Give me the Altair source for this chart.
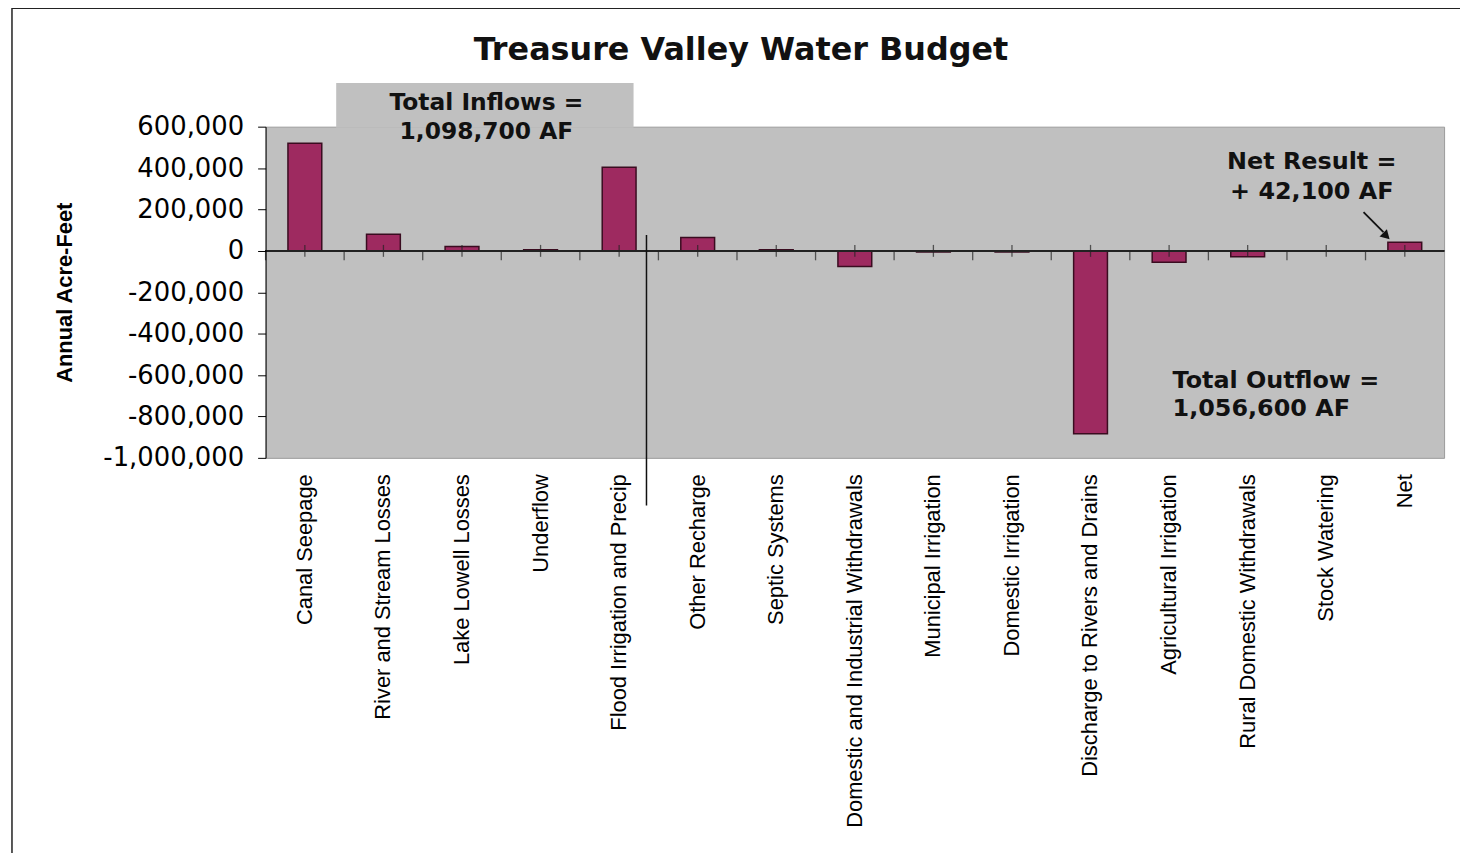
import altair as alt
import pandas as pd

categories = ["Canal Seepage", "River and Stream Losses", "Lake Lowell Losses", "Underflow",
              "Flood Irrigation and Precip", "Other Recharge", "Septic Systems",
              "Domestic and Industrial Withdrawals", "Municipal Irrigation", "Domestic Irrigation",
              "Discharge to Rivers and Drains", "Agricultural Irrigation",
              "Rural Domestic Withdrawals", "Stock Watering", "Net"]
values = [520000, 80000, 21000, 5000, 404000, 64000, 5000, -75000, -5000, -5000,
          -884000, -55000, -28000, 0, 42100]
y_ticks = [600000, 400000, 200000, 0, -200000, -400000, -600000, -800000, -1000000]

title_text = "Treasure Valley Water Budget"
y_title = "Annual Acre-Feet"
inflow_lines = ["Total Inflows =", "1,098,700 AF"]
outflow_lines = ["Total Outflow =", "1,056,600 AF"]
net_lines = ["Net Result =", "+ 42,100 AF"]

df = pd.DataFrame({"category": categories, "value": values})
one = pd.DataFrame({"k": [0]})

W, H = 1185, 333
BAR = "#9E2A60"
ANN_FONT = "DejaVu Sans"

xs = alt.Scale(paddingInner=0, paddingOuter=0)
ys = alt.Scale(domain=[-1000000, 600000], nice=False, zero=False)

x_enc = alt.X("category:N", sort=categories, scale=xs,
              axis=alt.Axis(title=None, labelAngle=-90, labelAlign="right", labelBaseline="middle",
                            labelFont="Liberation Sans", labelFontSize=22, labelColor="#000",
                            labelPadding=16, ticks=False, domain=False, labelLimit=0, zindex=1))
y_enc = alt.Y("value:Q", scale=ys,
              axis=alt.Axis(values=y_ticks, grid=False, title=y_title,
                            labelExpr="(datum.value < 0 ? '-' : '') + format(abs(datum.value), ',')",
                            labelFont="DejaVu Sans", labelFontSize=26, labelColor="#000",
                            labelPadding=14, tickSize=8, tickColor="#000", domainColor="#000",
                            titleFont="Liberation Sans", titleFontWeight="bold", titleFontSize=22,
                            titleColor="#000", titlePadding=26, zindex=1))

# outer frame
frame = alt.Chart(one).mark_rect(fillOpacity=0, stroke="#222", strokeWidth=1.5).encode(
    x=alt.value(-255), x2=alt.value(1215), y=alt.value(-119), y2=alt.value(760))

# inflow label box
box = alt.Chart(one).mark_rect(fill="#C0C0C0").encode(
    x=alt.value(71), x2=alt.value(370), y=alt.value(-44), y2=alt.value(1))

title = alt.Chart(one).mark_text(
    text=title_text, font="DejaVu Sans", fontWeight="bold", fontSize=32,
    align="center", baseline="alphabetic", color="#111").encode(x=alt.value(478), y=alt.value(-67))

bars = alt.Chart(df).mark_bar(size=34, color=BAR, stroke="#3a0c20", strokeWidth=1.5).encode(
    x=x_enc, y=y_enc, y2=alt.datum(0))

zero = alt.Chart(df).mark_rule(color="#222", strokeWidth=1.2).encode(y=alt.datum(0))

center_ticks = alt.Chart(df).mark_tick(orient="vertical", size=12, thickness=1.3, color="#222").encode(
    x=alt.X("category:N", sort=categories), y=alt.datum(0))

edge_ticks = alt.Chart(df).mark_tick(orient="vertical", size=9, thickness=1.3, color="#222").encode(
    x=alt.X("category:N", sort=categories, bandPosition=0), y=alt.datum(0),
    yOffset=alt.value(5))

separator = alt.Chart(one).mark_rule(color="#111", strokeWidth=1.5).encode(
    x=alt.value(383), y=alt.value(109), y2=alt.value(381))

inflow_txt = alt.Chart(one).mark_text(
    text=inflow_lines, font=ANN_FONT, fontWeight="bold", fontSize=23.5, lineHeight=29,
    align="center", baseline="middle", color="#111").encode(x=alt.value(222), y=alt.value(-24))

outflow_txt = alt.Chart(one).mark_text(
    text=outflow_lines, font=ANN_FONT, fontWeight="bold", fontSize=24, lineHeight=28,
    align="left", baseline="middle", color="#111").encode(x=alt.value(912), y=alt.value(256))

net_txt = alt.Chart(one).mark_text(
    text=net_lines, font=ANN_FONT, fontWeight="bold", fontSize=24, lineHeight=30,
    align="center", baseline="middle", color="#111").encode(x=alt.value(1052), y=alt.value(36))

arrow_line = alt.Chart(one).mark_rule(color="#111", strokeWidth=1.8).encode(
    x=alt.value(1104), y=alt.value(86), x2=alt.value(1124), y2=alt.value(106))

arrow_head = alt.Chart(one).mark_point(shape="triangle-up", angle=135, size=110, filled=True,
                                       color="#111", opacity=1).encode(
    x=alt.value(1127), y=alt.value(110))

chart = alt.layer(
    frame, box, title, bars, zero, center_ticks, edge_ticks, separator,
    inflow_txt, outflow_txt, net_txt, arrow_line, arrow_head
).properties(
    width=W, height=H,
    background="white",
    autosize=alt.AutoSizeParams(type="none"),
    padding={"left": 259, "top": 117, "right": 16, "bottom": 395},
).configure_view(fill="#C0C0C0", stroke="#9a9a9a")

chart.save("out.html", embed_options={"renderer": "svg", "actions": False})
